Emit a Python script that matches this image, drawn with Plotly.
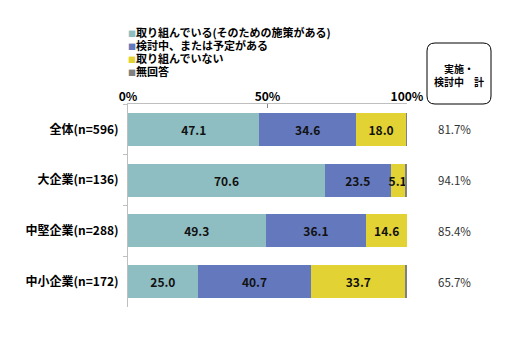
import plotly.graph_objects as go

categories = ["全体(n=596)", "大企業(n=136)", "中堅企業(n=288)", "中小企業(n=172)"]
series_names = ["取り組んでいる(そのための施策がある)", "検討中、または予定がある", "取り組んでいない", "無回答"]
doing = [47.1, 70.6, 49.3, 25.0]
planning = [34.6, 23.5, 36.1, 40.7]
not_doing = [18.0, 5.1, 14.6, 33.7]
no_answer = [0.3, 0.8, 0.0, 0.6]
tick_vals = [0, 50, 100]
tick_text = ["0%", "50%", "100%"]
box_lines = ["実施・", "検討中　計"]

colors = ["#8FBEC2", "#6479BD", "#E3D233", "#808080"]
FONT = "Noto Sans CJK JP"

# page has an 8px body margin; figure sized to fit the 519x360 window
OFF = 8
W, H = 511, 352
L, T, PW, PH = 120, 96, 279, 203
R, B = W - L - PW, H - T - PH


def px(sx):
    return (sx - OFF - L) / PW


def py(sy):
    return 1 - (sy - OFF - T) / PH


fig = go.Figure()
all_series = [doing, planning, not_doing, no_answer]
for i, (name, vals) in enumerate(zip(series_names, all_series)):
    show_text = i < 3
    fig.add_trace(go.Bar(
        y=categories, x=vals, name=name, orientation="h",
        marker=dict(color=colors[i], line=dict(width=0)),
        text=[f"{v:.1f}" for v in vals] if show_text else None,
        textposition="inside" if show_text else "none",
        insidetextanchor="middle",
        textfont=dict(family=FONT, size=12, color="#111", weight="bold"),
        textangle=0,
        constraintext="none",
        width=0.65,
        showlegend=False,
        hoverinfo="skip",
    ))

fig.update_layout(
    barmode="stack",
    width=W, height=H,
    margin=dict(l=L, r=R, t=T, b=B),
    plot_bgcolor="white", paper_bgcolor="white",
    font=dict(family=FONT, size=11, color="#000"),
    uniformtext=dict(minsize=6, mode="show"),
)
fig.update_xaxes(
    side="top", range=[0, 100], tickvals=tick_vals, ticktext=tick_text,
    showgrid=False, zeroline=False, showline=True, linecolor="#BFBFBF", linewidth=1,
    ticks="inside", ticklen=4, tickcolor="#888",
    tickfont=dict(family=FONT, size=12, color="#000", weight="bold"),
    ticklabelstandoff=-3,
    automargin=False, fixedrange=True,
)
fig.update_yaxes(
    categoryorder="array", categoryarray=categories, autorange="reversed",
    showgrid=False, zeroline=False, showline=True, linecolor="#BFBFBF", linewidth=1,
    ticks="outside", ticklen=4, tickcolor="#BFBFBF", tickson="boundaries",
    tickfont=dict(family=FONT, size=12, color="#000", weight="bold"),
    ticklabelstandoff=6, automargin=False,
)

# Legend as annotations (compact line spacing like the reference)
for k, (c, n) in enumerate(zip(colors, series_names)):
    sy = 32 + k * 13
    fig.add_annotation(
        xref="paper", yref="paper", x=px(126), y=py(sy),
        xanchor="left", yanchor="middle", align="left", showarrow=False,
        text=f"<span style='color:{c};font-size:8px'>■</span>{n}",
        font=dict(family=FONT, size=11, color="#000", weight="bold"),
    )

# Totals column
totals = [a + b for a, b in zip(doing, planning)]
for cat, t in zip(categories, totals):
    fig.add_annotation(
        xref="paper", yref="y", x=px(454), y=cat,
        text=f"{t:.1f}%", showarrow=False, xanchor="center",
        font=dict(family=FONT, size=11.5, color="#333"),
    )

# Rounded box header
x0, x1 = px(427), px(491)
y0, y1 = py(104), py(43)
rx, ry = 8 / PW, 8 / PH
path = (f"M {x0+rx},{y1} L {x1-rx},{y1} Q {x1},{y1} {x1},{y1-ry} "
        f"L {x1},{y0+ry} Q {x1},{y0} {x1-rx},{y0} L {x0+rx},{y0} "
        f"Q {x0},{y0} {x0},{y0+ry} L {x0},{y1-ry} Q {x0},{y1} {x0+rx},{y1} Z")
fig.add_shape(type="path", xref="paper", yref="paper", path=path,
              line=dict(color="#000", width=1), fillcolor="white")
for sy, line in zip([68, 82], box_lines):
    fig.add_annotation(
        xref="paper", yref="paper", x=(x0 + x1) / 2, y=py(sy),
        text=line, showarrow=False, xanchor="center", yanchor="middle",
        font=dict(family=FONT, size=10, color="#000", weight="bold"),
    )

fig.write_html("out.html")
